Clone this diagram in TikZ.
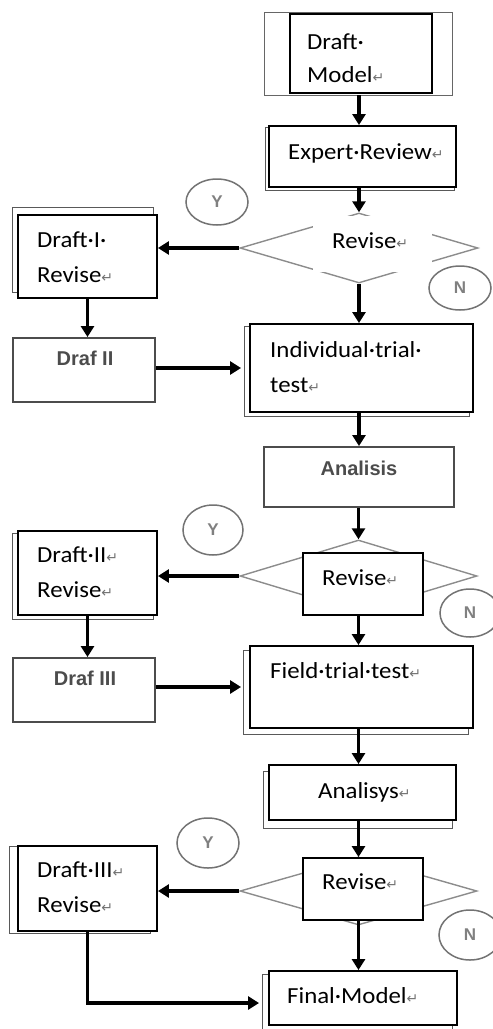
\documentclass[tikz,border=0pt]{standalone}
\usepackage{fontspec}
\setmainfont{Carlito}[FakeStretch=1.08]
\newfontfamily\arialf{Liberation Sans}
\newfontfamily\symf{DejaVu Sans}
\usetikzlibrary{shapes.geometric,arrows.meta,backgrounds,calc}
\newcommand{\wpmark}{{\symf\fontsize{14}{14}\selectfont\textcolor{black!55}{↵}}}
\begin{document}
\begin{tikzpicture}[x=1pt,y=-1pt,
  box/.style={draw=black, line width=1.9pt, fill=white, inner sep=0pt},
  imgbox/.style={draw=black!70, line width=1.9pt, fill=white, inner sep=0pt},
  thinbox/.style={draw=black!60, line width=0.9pt, fill=white, inner sep=0pt},
  shadowline/.style={draw=black!65, line width=0.9pt},
  flow/.style={line width=3.4pt, -{Triangle[length=11pt,width=13pt]}},
  dia/.style={diamond, draw=black!45, line width=1.4pt, inner sep=0pt},
  yn/.style={ellipse, draw=black!55, line width=1.5pt, inner sep=0pt,
    font=\arialf\bfseries\fontsize{17}{17}\selectfont, text=black!50},
  txt/.style={anchor=base west, font=\fontsize{23}{23}\selectfont, inner sep=0pt},
  imgtxt/.style={anchor=base, font=\arialf\bfseries\fontsize{20}{20}\selectfont, text=black!70, inner sep=0pt},
  size/.style n args={2}{minimum width=#1pt, minimum height=#2pt}
]
\useasboundingbox (0,0) rectangle (493,1029);

% ---------- main column ----------
\node[thinbox, size={188}{83}] (dmo) at (358,53.5) {};
\node[box, line width=2.2pt, size={142}{79}] (dm) at (361,53.5) {};
\node[txt] (t-dm1) at (307,49) {Draft·};
\node[txt] (t-dm2) at (307,82) {Model\wpmark};

\node[box, size={187}{61}] (er) at (362.5,156.5) {};
\node[txt] (t-er) at (288,159) {Expert·Review\wpmark};

\node[dia, minimum width=238pt, minimum height=70pt] (d1) at (359,248) {};
\node[fill=white, inner sep=0pt, size={119}{56}] (r1) at (372.5,244) {};
\node[txt] (t-r1) at (332,248) {Revise\wpmark};
\node[yn, size={62}{46}] (y1) at (217,202) {Y};
\node[yn, size={62}{44}] (n1) at (460,288) {N};

\node[box, size={223}{88}] (ind) at (361.5,368) {};
\node[txt] (t-ind1) at (270,357) {Individual·trial·};
\node[txt] (t-ind2) at (270,392) {test\wpmark};

\node[imgbox, size={190}{60}] (an) at (359,477) {};
\node[imgtxt] (t-an) at (359,475) {Analisis};

\node[dia, minimum width=237pt, minimum height=72pt] (d2) at (358.5,576) {};
\node[box, size={120}{62}] (r2) at (363,584) {};
\node[txt] (t-r2) at (322,585) {Revise\wpmark};
\node[yn, size={60}{50}] (y2) at (213,530) {Y};
\node[yn, size={60}{48}] (n2) at (470,613) {N};

\node[box, size={223}{82}] (fld) at (361.5,687) {};
\node[txt] (t-fld) at (270,678) {Field·trial·test\wpmark};

\node[box, size={187}{55}] (ays) at (362.5,792.5) {};
\node[txt] (t-ays) at (318,798) {Analisys\wpmark};

\node[dia, minimum width=237pt, minimum height=68pt] (d3) at (358.5,891) {};
\node[box, size={120}{62}] (r3) at (363,889) {};
\node[txt] (t-r3) at (322,889) {Revise\wpmark};
\node[yn, size={62}{50}] (y3) at (208,843) {Y};
\node[yn, size={62}{50}] (n3) at (470,935) {N};

\node[box, size={188}{54}] (fin) at (363,998) {};
\node[txt] (t-fin) at (287,1003) {Final·Model\wpmark};

% ---------- left column ----------
\node[box, size={139}{83}] (dI) at (87.5,256.5) {};
\node[txt] (t-dI1) at (37,247) {Draft·I·};
\node[txt] (t-dI2) at (37,282) {Revise\wpmark};

\node[imgbox, size={142}{64}] (dII) at (84,370) {};
\node[imgtxt] (t-dII) at (85,365) {Draf II};

\node[box, size={139}{84}] (dII2) at (87.5,573) {};
\node[txt] (t-dII21) at (37,562) {Draft·II\wpmark};
\node[txt] (t-dII22) at (37,597) {Revise\wpmark};

\node[imgbox, size={142}{64}] (dIII) at (84,690) {};
\node[imgtxt] (t-dIII) at (85,685) {Draf III};

\node[box, size={139}{85}] (dIII2) at (87.5,888.5) {};
\node[txt] (t-dIII21) at (37,877) {Draft·III\wpmark};
\node[txt] (t-dIII22) at (37,912) {Revise\wpmark};

% ---------- shadows ----------
\begin{pgfonlayer}{background}
  \draw[shadowline] ([shift={(-3,2)}]er.north west) rectangle ([shift={(-3,2)}]er.south east);
  \draw[shadowline] ([shift={(-5,-7)}]dI.north west) rectangle ([shift={(-5,-7)}]dI.south east);
  \draw[shadowline] ([shift={(-5,3)}]ind.north west) rectangle ([shift={(-5,3)}]ind.south east);
  \draw[shadowline] ([shift={(-5,3)}]dII2.north west) rectangle ([shift={(-5,3)}]dII2.south east);
  \draw[shadowline] ([shift={(-6,5)}]fld.north west) rectangle ([shift={(-6,5)}]fld.south east);
  \draw[shadowline] ([shift={(-5,7)}]ays.north west) rectangle ([shift={(-5,7)}]ays.south east);
  \draw[shadowline] ([shift={(-8,1)}]dIII2.north west) rectangle ([shift={(-8,1)}]dIII2.south east);
  \draw[shadowline] ([shift={(-6,4)}]fin.north west) rectangle ([shift={(-6,4)}]fin.south east);
\end{pgfonlayer}

% ---------- connectors ----------
\coordinate (bend) at (dIII2.south |- 0,1003);
\draw[flow] (dmo.south -| d1.north) -- (er.north -| d1.north);
\draw[flow] (er.south -| d1.north) -- (d1.north);
\draw[flow] (d1.west) -- (d1.west -| dI.east);
\draw[flow] (d1.south) -- (ind.north -| d1.south);
\draw[flow] (dI.south) -- (dI.south |- dII.north);
\draw[flow, shorten >=8pt] (dII.east |- ind.west) -- (ind.west);
\draw[flow] (ind.south -| d1.south) -- (an.north -| d1.south);
\draw[flow] (an.south -| d2.north) -- (d2.north);
\draw[flow] (d2.west) -- (d2.west -| dII2.east);
\draw[flow] (r2.south -| d2.south) -- (fld.north -| d2.south);
\draw[flow] (dII2.south) -- (dII2.south |- dIII.north);
\draw[flow, shorten >=8pt] (dIII.east |- fld.west) -- (fld.west);
\draw[flow] (fld.south -| d3.north) -- (ays.north -| d3.north);
\draw[flow] (ays.south -| d3.north) -- (r3.north -| d3.north);
\draw[flow] (d3.west) -- (d3.west -| dIII2.east);
\draw[flow] (r3.south -| d3.south) -- (fin.north -| d3.south);
\draw[flow, shorten >=9pt] (dIII2.south) -- (bend) -- (bend -| fin.west);
\end{tikzpicture}
\end{document}
